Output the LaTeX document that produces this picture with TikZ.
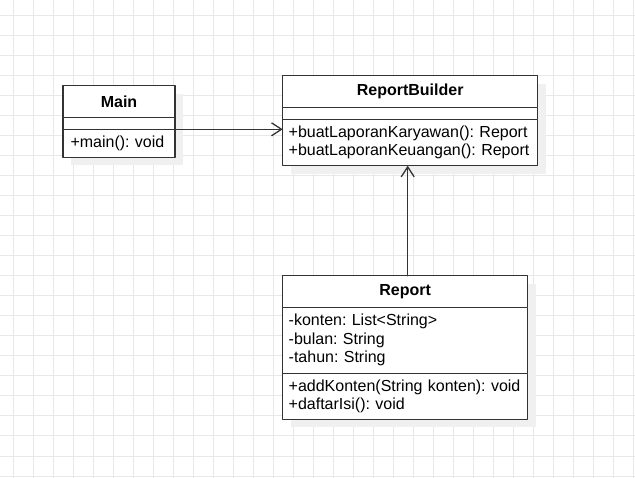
\documentclass[tikz,border=0pt]{standalone}
\usepackage{fontspec}
\setmainfont{Liberation Sans}
\usetikzlibrary{positioning,arrows.meta,shadows}
\definecolor{linegray}{RGB}{51,51,51}
\definecolor{gridgray}{RGB}{232,232,232}
\definecolor{shadowgray}{RGB}{240,240,240}
\newcommand{\classfont}{\fontsize{16}{18.5}\selectfont\frenchspacing\hyphenpenalty=10000\relax}
\begin{document}
\begin{tikzpicture}[x=1pt,y=-1pt,line cap=round,line join=round,
  classbox/.style={draw=linegray,line width=1.3,fill=white,outer sep=0,
    drop shadow={shadow xshift=8pt,shadow yshift=-8pt,fill=shadowgray,opacity=1}},
  classhead/.style={classbox,minimum width=#1,minimum height=31.6,inner sep=0,
    font=\fontsize{16}{18.5}\selectfont\bfseries},
  classpart/.style={classbox,text width=#1,align=left,inner xsep=6,inner ysep=2,
    font=\classfont},
  assoc/.style={draw=linegray,line width=1.3,-{Straight Barb[length=10,width=13]}}]
\useasboundingbox (0,0) rectangle (635,478);
% grid
\foreach \gx in {13,33,...,633} \draw[gridgray,line width=1] (\gx,0) -- (\gx,478);
\foreach \gy in {16,36,...,476} \draw[gridgray,line width=1] (0,\gy) -- (635,\gy);

% Main
\node[classhead=112] (mainHead) at (119,101.5) {Main};
\node[classpart=100,minimum height=12,below=0pt of mainHead] (mainAttr) {};
\node[classpart=100,minimum height=28,below=0pt of mainAttr] (mainOps) {\hspace{1.5pt}+main(): void};

% ReportBuilder
\node[classhead=255] (rbHead) at (410.2,91.5) {ReportBuilder};
\node[classpart=243,minimum height=12,below=0pt of rbHead] (rbAttr) {};
\node[classpart=243,minimum height=46.4,below=0pt of rbAttr] (rbOps)
  {+buatLaporanKaryawan(): Report\\+buatLaporanKeuangan(): Report};

% Report
\node[classhead=245] (repHead) at (405.2,291.5) {Report};
\node[classpart=233,minimum height=66,below=0pt of repHead] (repAttr)
  {-konten: List<String>\\-bulan: String\\-tahun: String};
\node[classpart=233,minimum height=46,below=0pt of repAttr] (repOps)
  {+addKonten(String konten): void\\+daftarIsi(): void};

\draw[assoc] (mainOps.north east) -- (mainOps.north east -| rbOps.west);
\draw[assoc] ([xshift=2.5]repHead.north) -- ([xshift=2.5]repHead.north |- rbOps.south);
\end{tikzpicture}
\end{document}
